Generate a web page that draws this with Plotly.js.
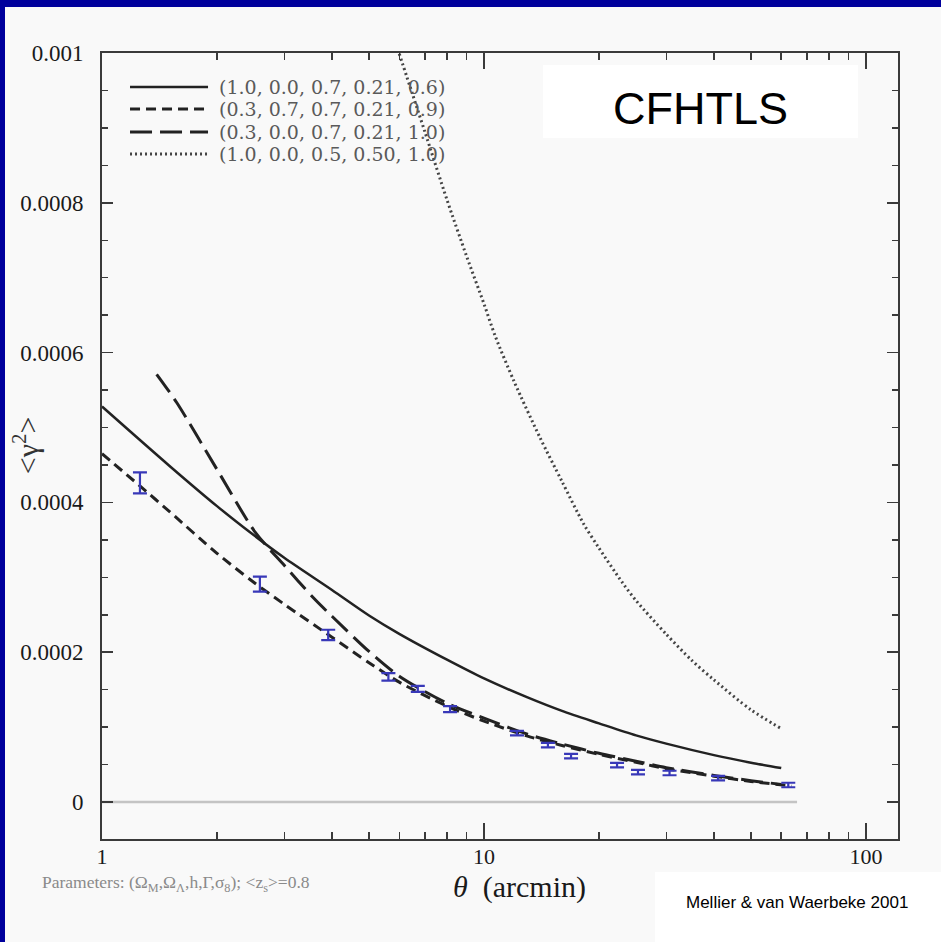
<!DOCTYPE html>
<html>
<head>
<meta charset="utf-8">
<script src="https://cdn.plot.ly/plotly-3.0.1.min.js"></script>
<style>
  html, body { margin: 0; padding: 0; background: #00009c; width: 941px; height: 942px; overflow: hidden; }
  #chart { position: absolute; left: 5px; top: 7px; width: 936px; height: 935px; }
</style>
</head>
<body>
<div id="chart"></div>
<script>
// ---- data ----
const legendLabels = [
  "(1.0, 0.0, 0.7, 0.21, 0.6)",
  "(0.3, 0.7, 0.7, 0.21, 0.9)",
  "(0.3, 0.0, 0.7, 0.21, 1.0)",
  "(1.0, 0.0, 0.5, 0.50, 1.0)"
];

// solid: (1.0, 0.0, 0.7, 0.21, 0.6)
const solidX = [1, 1.5, 2, 2.5, 3, 4, 5, 6, 8, 10, 13, 16, 20, 25, 30, 40, 50, 60];
const solidY = [0.000528, 0.000449, 0.000395, 0.000356, 0.000326, 0.000283, 0.000249, 0.0002245,
                0.000190, 0.000165, 0.0001396, 0.0001216, 0.000105, 0.0000889, 0.0000779,
                0.0000626, 0.0000525, 0.0000453];

// short dash: (0.3, 0.7, 0.7, 0.21, 0.9)
const shortX = [1, 1.25, 1.5, 2, 2.5, 3, 4, 5, 6, 8, 10, 13, 16, 20, 25, 30, 40, 50, 64];
const shortY = [0.000465, 0.000423, 0.000388, 0.000332, 0.000293, 0.000264, 0.000220, 0.000186,
                0.000160, 0.000128, 0.000108, 0.000088, 0.0000755, 0.0000635, 0.000053,
                0.0000445, 0.0000345, 0.0000275, 0.0000213];

// long dash: (0.3, 0.0, 0.7, 0.21, 1.0)
const longX = [1.39, 1.57, 2, 2.52, 3, 3.57, 4, 5, 6, 8, 10, 13, 16, 20, 25, 30, 40, 50, 60];
const longY = [0.000571, 0.000533, 0.000444, 0.000360, 0.000316, 0.000273, 0.000248, 0.000201,
               0.000168, 0.000132, 0.000112, 0.0000905, 0.0000775, 0.000065, 0.0000545,
               0.0000458, 0.0000355, 0.0000285, 0.0000235];

// dotted: (1.0, 0.0, 0.5, 0.50, 1.0)
const dotX = [6.0, 6.5, 7, 8, 9, 10, 10.7, 12, 14, 16, 18.2, 20, 23.1, 25, 30, 35, 40, 50, 60];
const dotY = [0.000999, 0.000945, 0.000895, 0.000804, 0.000729, 0.000665, 0.000622, 0.000561,
              0.000487, 0.000428, 0.000372, 0.000339, 0.000292, 0.000269, 0.000224,
              0.000189, 0.000163, 0.000123, 0.000098];

// CFHTLS measurements
const dataX   = [1.257, 2.59, 3.91, 5.62, 6.71, 8.15, 12.2, 14.7, 16.9, 22.3, 25.3, 30.6, 41.0, 62.6];
const dataY   = [0.000426, 0.000291, 0.000223, 0.000167, 0.000151, 0.000124, 0.000092, 0.000076,
                 0.0000613, 0.0000493, 0.000040, 0.0000387, 0.000032, 0.0000227];
const dataErr = [0.000014, 0.000010, 0.000007, 0.000005, 0.000004, 0.000004, 0.000003, 0.000003,
                 0.000003, 0.000003, 0.000003, 0.000003, 0.000003, 0.000003];

// zero reference line
const zeroX = [1, 66];
const zeroY = [0, 0];

const yTickVals = [0, 0.0002, 0.0004, 0.0006, 0.0008, 0.001];
const yTickText = ["0", "0.0002", "0.0004", "0.0006", "0.0008", "0.001"];
const xTickVals = [1, 10, 100];
const xTickText = ["1", "10", "100"];
const xMinorVals = [2, 3, 4, 5, 6, 7, 8, 9, 20, 30, 40, 50, 60, 70, 80, 90];

const xTitle = "<i>θ</i>&nbsp; (arcmin)";
const yTitle = "&lt;γ<sup>2</sup>&gt;";
const paramText = "Parameters: (Ω<sub>M</sub>,Ω<sub>Λ</sub>,h,Γ,σ<sub>8</sub>); &lt;z<sub>s</sub>&gt;=0.8";
const surveyText = "CFHTLS";
const creditText = "Mellier &amp; van Waerbeke 2001";

// ---- styling ----
const serif = "Liberation Serif, Times New Roman, serif";
const sans = "Liberation Sans, Arial, sans-serif";
const ink = "#222222";
const styles = [
  {color: ink, width: 2.5, dash: "solid"},
  {color: ink, width: 3, dash: "10px,6px"},
  {color: ink, width: 3, dash: "22px,8px"},
  {color: "#444444", width: 3, dash: "2px,3px"}
];
function lineStyle(i) { return Object.assign({shape: "spline", smoothing: 0.8}, styles[i]); }

const traces = [
  {x: zeroX, y: zeroY, mode: "lines", line: {color: "#c4c4c4", width: 2.5}, hoverinfo: "skip"},
  {x: solidX, y: solidY, mode: "lines", line: lineStyle(0), name: legendLabels[0]},
  {x: shortX, y: shortY, mode: "lines", line: lineStyle(1), name: legendLabels[1]},
  {x: longX, y: longY, mode: "lines", line: lineStyle(2), name: legendLabels[2]},
  {x: dotX, y: dotY, mode: "lines", line: lineStyle(3), name: legendLabels[3]},
  {x: dataX, y: dataY, mode: "markers", marker: {size: 1, color: "#3838b8"}, name: surveyText,
   error_y: {type: "data", array: dataErr, visible: true, color: "#3838b8", thickness: 2.2, width: 7}}
];

// legend drawn as shapes + annotations (paper coords)
const rowsY = [0.9567, 0.9288, 0.8995, 0.8715];
const shapes = [];
const annotations = [];
for (let i = 0; i < legendLabels.length; i++) {
  shapes.push({type: "line", xref: "paper", yref: "paper", x0: 0.0352, x1: 0.1332, y0: rowsY[i], y1: rowsY[i],
               line: {color: styles[i].color, width: i === 0 ? 2.5 : 3, dash: styles[i].dash}});
  annotations.push({xref: "paper", yref: "paper", x: 0.1445, y: rowsY[i], xanchor: "left", yanchor: "middle",
                    text: legendLabels[i], showarrow: false,
                    font: {family: "DejaVu Serif, serif", size: 19, color: "#5a5a5a"}});
}
// white label boxes
shapes.push({type: "rect", xref: "paper", yref: "paper", x0: 0.554, x1: 0.9497, y0: 0.8919, y1: 0.9847,
             fillcolor: "#ffffff", line: {width: 0}, layer: "above"});
shapes.push({type: "rect", xref: "paper", yref: "paper", x0: 0.6947, x1: 1.06, y0: -0.14, y1: -0.042,
             fillcolor: "#ffffff", line: {width: 0}, layer: "above"});

annotations.push({xref: "paper", yref: "paper", x: 0.7515, y: 0.9288, xanchor: "center", yanchor: "middle",
                  text: surveyText, showarrow: false, font: {family: sans, size: 45, color: "#000000"}});
annotations.push({xref: "paper", yref: "paper", x: 0.873, y: -0.0814, xanchor: "center", yanchor: "middle",
                  text: creditText, showarrow: false, font: {family: sans, size: 17, color: "#000000"}});
annotations.push({xref: "paper", yref: "paper", x: -0.0779, y: -0.056, xanchor: "left", yanchor: "middle",
                  text: paramText, showarrow: false, font: {family: serif, size: 17.5, color: "#8a8a8a"}});
// axis titles placed where the reference has them
annotations.push({xref: "paper", yref: "paper", x: 0.5239, y: -0.0615, xanchor: "center", yanchor: "middle",
                  text: xTitle, showarrow: false, font: {family: serif, size: 30, color: "#1a1a1a"}});
annotations.push({xref: "paper", yref: "paper", x: -0.0955, y: 0.501, xanchor: "center", yanchor: "middle",
                  text: yTitle, textangle: -90, showarrow: false, font: {family: serif, size: 30, color: "#333333"}});

const axisCommon = {
  showline: true, linecolor: "#3a3a3a", linewidth: 2, mirror: "allticks",
  ticks: "inside", tickcolor: "#3a3a3a", tickwidth: 1.5, ticklen: 11,
  showgrid: false, zeroline: false,
  tickfont: {family: serif, size: 23, color: "#1a1a1a"}
};

const layout = {
  width: 936, height: 935,
  margin: {l: 97, r: 43, t: 46, b: 103},
  paper_bgcolor: "#f9f9f9", plot_bgcolor: "#f9f9f9",
  showlegend: false,
  xaxis: Object.assign({}, axisCommon, {
    type: "log", range: [0, 2.0838],
    tickmode: "array", tickvals: xTickVals, ticktext: xTickText,
    tickfont: {family: serif, size: 22, color: "#1a1a1a"},
    ticklabelstandoff: -3, ticklen: 16,
    minor: {tickmode: "array", tickvals: xMinorVals, ticks: "inside", ticklen: 7, tickcolor: "#3a3a3a", tickwidth: 1.5}
  }),
  yaxis: Object.assign({}, axisCommon, {
    range: [-0.0000494, 0.001],
    tickmode: "array", tickvals: yTickVals, ticktext: yTickText,
    ticklabelstandoff: 12,
    minor: {dtick: 0.00005, ticks: "inside", ticklen: 6, tickcolor: "#3a3a3a", tickwidth: 1.5}
  }),
  shapes: shapes,
  annotations: annotations
};

Plotly.newPlot("chart", traces, layout, {displayModeBar: false, staticPlot: true});
</script>
</body>
</html>
